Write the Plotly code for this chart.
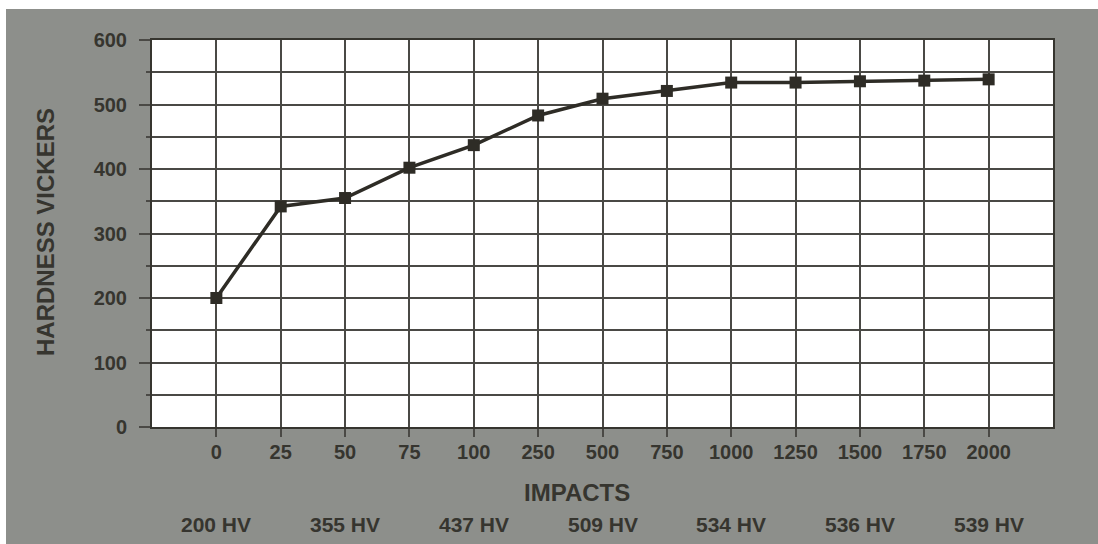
import plotly.graph_objects as go

impacts = ["0", "25", "50", "75", "100", "250", "500", "750", "1000", "1250", "1500", "1750", "2000"]
hardness = [200, 342, 355, 402, 437, 483, 509, 521, 534, 534, 536, 537, 539]
hv_positions = ["0", "50", "100", "500", "1000", "1500", "2000"]
hv_labels = ["200 HV", "355 HV", "437 HV", "509 HV", "534 HV", "536 HV", "539 HV"]
y_ticks = [0, 100, 200, 300, 400, 500, 600]

BG = "#8d8f8b"
INK = "#36352f"
GRID = "#4a4945"
FONT = "Liberation Sans"

fig = go.Figure()
fig.add_trace(go.Scatter(
    x=impacts, y=hardness, mode="lines+markers",
    line=dict(color="#2e2c26", width=3.5),
    marker=dict(symbol="square", size=12, color="#2e2c26"),
    showlegend=False, cliponaxis=False,
))

W, H = 1098, 544
# plot area in screenshot pixels: left 152, right 1053, top 40, bottom 427
L, R, T, B = 152, W - 1053, 40, H - 427
pw, ph = W - L - R, H - T - B


def px(xs):
    return (xs - L) / pw


def py(ys):
    return (H - B - ys) / ph


annotations = [
    dict(text="<b>HARDNESS VICKERS</b>", xref="paper", yref="paper", x=px(45), y=py(232),
         textangle=-90, showarrow=False, font=dict(family=FONT, size=24, color=INK),
         xanchor="center", yanchor="middle"),
    dict(text="<b>IMPACTS</b>", xref="paper", yref="paper", x=px(577), y=py(492),
         showarrow=False, font=dict(family=FONT, size=24, color=INK),
         xanchor="center", yanchor="middle"),
]
for pos, lab in zip(hv_positions, hv_labels):
    annotations.append(dict(text="<b>" + lab + "</b>", xref="x", yref="paper",
                            x=impacts.index(pos), y=py(524),
                            showarrow=False, font=dict(family=FONT, size=21, color=INK),
                            xanchor="center", yanchor="middle"))

# white scan border along the top and left edges
shapes = [
    dict(type="rect", xref="paper", yref="paper", x0=px(0), x1=px(W), y0=py(9), y1=py(0),
         fillcolor="white", line=dict(width=0), layer="above"),
    dict(type="rect", xref="paper", yref="paper", x0=px(0), x1=px(6), y0=py(H), y1=py(0),
         fillcolor="white", line=dict(width=0), layer="above"),
]

fig.update_layout(
    width=W, height=H,
    margin=dict(l=L, r=R, t=T, b=B),
    paper_bgcolor=BG, plot_bgcolor="white",
    font=dict(family=FONT, color=INK),
    annotations=annotations, shapes=shapes,
    xaxis=dict(
        type="category", categoryorder="array", categoryarray=impacts,
        range=[-1, 13], showgrid=True, gridcolor=GRID, gridwidth=2,
        showline=True, linecolor=INK, linewidth=2, mirror=True,
        ticks="outside", ticklen=8, tickwidth=2, tickcolor=GRID,
        tickfont=dict(family=FONT, size=20, color=INK, weight="bold"),
        ticklabelstandoff=-2, zeroline=False,
    ),
    yaxis=dict(
        range=[0, 600], tickvals=y_ticks, showgrid=True, gridcolor=GRID, gridwidth=2,
        showline=True, linecolor=INK, linewidth=2, mirror=True,
        ticks="outside", ticklen=11, tickwidth=2, tickcolor=GRID,
        tickfont=dict(family=FONT, size=20, color=INK, weight="bold"),
        ticklabelstandoff=8, zeroline=False,
        minor=dict(dtick=50, showgrid=True, gridcolor=GRID, gridwidth=1.5,
                   ticks="outside", ticklen=4, tickcolor=GRID, tickwidth=1.5),
    ),
)

fig.write_html("out.html", config={"displayModeBar": False},
               post_script="document.body.style.margin='0';")
